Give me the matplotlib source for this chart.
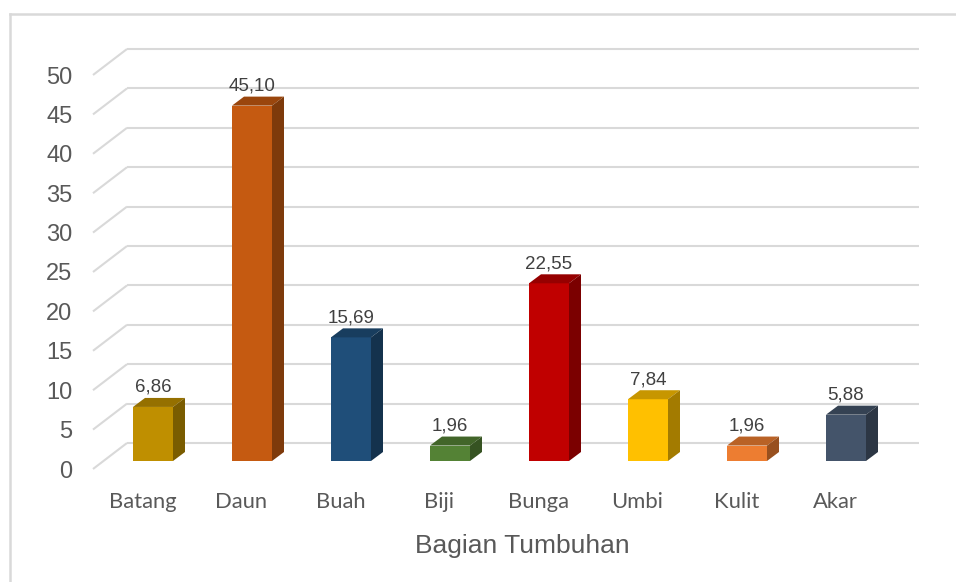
import matplotlib
matplotlib.use("Agg")
import matplotlib.pyplot as plt
from matplotlib.patches import Polygon
from matplotlib.lines import Line2D
import numpy as np

# ---- data ----
categories = ["Batang", "Daun", "Buah", "Biji", "Bunga", "Umbi", "Kulit", "Akar"]
values = [6.86, 45.10, 15.69, 1.96, 22.55, 7.84, 1.96, 5.88]
value_labels = ["6,86", "45,10", "15,69", "1,96", "22,55", "7,84", "1,96", "5,88"]
y_ticks = [0, 5, 10, 15, 20, 25, 30, 35, 40, 45, 50]
x_title = "Bagian Tumbuhan"

front_colors = ["#BF8F00", "#C55A11", "#1F4E79", "#548235",
                "#C00000", "#FFC000", "#ED7D31", "#44546A"]

W, H = 956, 582
fig = plt.figure(figsize=(W / 100, H / 100), dpi=100)
fig.patch.set_facecolor("white")

# axes = plane of the bars' front faces (pixel geometry)
left_px, right_px = 103.5, 895.5
base_px, top_px = 461, 67
ax = fig.add_axes([left_px / W, (H - base_px) / H,
                   (right_px - left_px) / W, (base_px - top_px) / H])
ax.set_xlim(-0.5, len(categories) - 0.5)
ax.set_ylim(0, 50)
ax.axis("off")

def off(x, y, dx, dy):
    p = ax.transData.transform((x, y))
    return ax.transData.inverted().transform((p[0] + dx, p[1] + dy))

BACK = (23.5, 18)
FRONT = (-10.5, -8)
DEPTH = (12, 9)
grid_c = "#D9D9D9"

# back wall gridlines and left-wall diagonals
for v in y_ticks:
    a = off(-0.5, v, *BACK)
    b = off(len(categories) - 0.5, v, *BACK)
    ax.add_line(Line2D([a[0], b[0]], [a[1], b[1]], color=grid_c, lw=1.5,
                       clip_on=False, zorder=1, solid_capstyle="butt"))
    f = off(-0.5, v, *FRONT)
    ax.add_line(Line2D([f[0], a[0]], [f[1], a[1]], color=grid_c, lw=1.5,
                       clip_on=False, zorder=1, solid_capstyle="butt"))
    t = off(-0.5, v, FRONT[0] - 20.5, FRONT[1] - 8.5)
    ax.text(t[0], t[1], str(v), ha="right", va="baseline", fontsize=17,
            family="Liberation Sans", color="#595959", clip_on=False)

def shade(hexc, k):
    c = np.array(matplotlib.colors.to_rgb(hexc)) * k
    return tuple(c)

x = np.arange(len(categories))
bw = 40 / 99
ax.bar(x, values, width=bw, color=front_colors, zorder=3, linewidth=0)

for xi, v, c, lab, cat in zip(x, values, front_colors, value_labels, categories):
    l, r = xi - bw / 2, xi + bw / 2
    # top face
    p1 = off(l, v, *DEPTH)
    p2 = off(r, v, *DEPTH)
    ax.add_patch(Polygon([(l, v), (r, v), tuple(p2), tuple(p1)], closed=True,
                         facecolor=shade(c, 0.78), edgecolor="none",
                         zorder=3, clip_on=False))
    # side face
    s1 = off(r, 0, *DEPTH)
    ax.add_patch(Polygon([(r, 0), (r, v), tuple(p2), tuple(s1)], closed=True,
                         facecolor=shade(c, 0.64), edgecolor="none",
                         zorder=3, clip_on=False))
    # value label
    t = off(xi, v, 0, 15)
    ax.text(t[0], t[1], lab, ha="center", va="baseline", fontsize=13.5,
            family="Liberation Sans", color="#404040", clip_on=False, zorder=5)
    # category label
    t = off(xi, 0, -10.5, -46.5)
    ax.text(t[0], t[1], cat, ha="center", va="baseline", fontsize=15.8,
            family="Lato", color="#595959", clip_on=False)

# axis title
fig.text(522 / W, (H - 553) / H, x_title, ha="center", va="baseline",
         fontsize=19, family="Liberation Sans", color="#595959")

# chart frame
fig.add_artist(Line2D([10 / W, 10 / W], [0, (H - 13.5) / H], color=grid_c,
                      lw=1.8, transform=fig.transFigure))
fig.add_artist(Line2D([10 / W, 1], [(H - 13.5) / H, (H - 13.5) / H],
                      color=grid_c, lw=1.8, transform=fig.transFigure))

fig.savefig("out.png", dpi=100, facecolor="white")
